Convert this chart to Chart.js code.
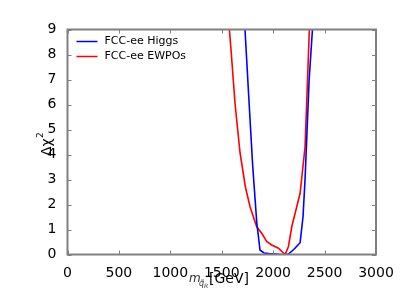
<!DOCTYPE html>
<html>
<head>
<meta charset="utf-8">
<script src="https://cdn.jsdelivr.net/npm/chart.js@4/dist/chart.umd.min.js"></script>
<style>
  html, body { margin: 0; padding: 0; background: #fff; }
  #wrap { width: 400px; height: 300px; }
</style>
</head>
<body>
<div id="wrap"><canvas id="chart"></canvas></div>
<script>
// values
const higgsMass = [1726, 1760, 1800, 1840, 1872, 1911, 1960, 2010, 2060, 2099, 2148, 2200, 2262, 2290, 2310, 2330, 2350, 2382];
const higgsChi2 = [9, 6.5, 3.6, 1.3, 0.18, 0.06, 0.04, 0.03, 0.01, 0, 0.02, 0.2, 0.47, 1.5, 3.0, 5.0, 7.0, 9];
const ewpoMass = [1574, 1590, 1629, 1678, 1694, 1730, 1775, 1840, 1889, 1937, 1986, 2051, 2116, 2148, 2181, 2197, 2262, 2310, 2352];
const ewpoChi2 = [9, 8.2, 6.05, 4.06, 3.65, 2.7, 1.91, 1.11, 0.85, 0.52, 0.38, 0.25, 0, 0.31, 1.11, 1.38, 2.45, 4.3, 9];
const xTicks = [0, 500, 1000, 1500, 2000, 2500, 3000];
const yTicks = [0, 1, 2, 3, 4, 5, 6, 7, 8, 9];
const seriesNames = ['FCC-ee Higgs', 'FCC-ee EWPOs'];

const pts = (xs, ys) => xs.map((x, i) => ({ x: x, y: ys[i] }));
const FONT = 'DejaVu Sans';

// frame, inward ticks, legend and axis titles
const decor = {
  id: 'decor',
  afterDatasetsDraw(chart) {
    const ctx = chart.ctx;
    const a = chart.chartArea;
    const sx = chart.scales.x, sy = chart.scales.y;
    ctx.save();
    ctx.strokeStyle = '#808080';
    ctx.lineWidth = 1;
    ctx.beginPath();
    xTicks.forEach(v => {
      const p = Math.round(sx.getPixelForValue(v)) + 0.5;
      ctx.moveTo(p, a.bottom); ctx.lineTo(p, a.bottom - 4);
      ctx.moveTo(p, a.top); ctx.lineTo(p, a.top + 4);
    });
    yTicks.forEach(v => {
      const p = Math.round(sy.getPixelForValue(v)) + 0.5;
      ctx.moveTo(a.left, p); ctx.lineTo(a.left + 4, p);
      ctx.moveTo(a.right, p); ctx.lineTo(a.right - 4, p);
    });
    ctx.stroke();
    ctx.lineWidth = 2;
    ctx.strokeRect(a.left, a.top, a.right - a.left, a.bottom - a.top);

    // legend
    ctx.font = '11px "' + FONT + '"';
    ctx.textBaseline = 'middle';
    ctx.fillStyle = '#000';
    chart.data.datasets.forEach((ds, i) => {
      const y = a.top + 12 + i * 15;
      ctx.strokeStyle = ds.borderColor;
      ctx.lineWidth = 1.5;
      ctx.beginPath();
      ctx.moveTo(a.left + 9, y); ctx.lineTo(a.left + 30, y);
      ctx.stroke();
      ctx.fillText(ds.label, a.left + 37, y);
    });

    // y title
    ctx.save();
    ctx.translate(51, 144);
    ctx.rotate(-Math.PI / 2);
    ctx.textAlign = 'left';
    ctx.textBaseline = 'alphabetic';
    ctx.font = '14px "' + FONT + '"';
    ctx.fillText('\u0394\u03c7', -12, 0);
    ctx.font = '9px "' + FONT + '"';
    ctx.fillText('2', 6, -8);
    ctx.restore();

    // x title
    ctx.textAlign = 'left';
    ctx.textBaseline = 'alphabetic';
    ctx.fillStyle = '#333';
    ctx.font = 'italic 12px "' + FONT + '"';
    ctx.fillText('m', 189, 282);
    ctx.font = 'italic 8px "' + FONT + '"';
    ctx.fillText('q\u0303', 199, 286);
    ctx.font = 'italic 6px "' + FONT + '"';
    ctx.fillText('R', 204, 288);
    ctx.fillStyle = '#000';
    ctx.font = '14px "' + FONT + '"';
    ctx.fillText('[GeV]', 209, 283);
    ctx.restore();
  }
};

new Chart(document.getElementById('chart'), {
  type: 'line',
  data: {
    datasets: [
      { label: seriesNames[0], data: pts(higgsMass, higgsChi2), borderColor: '#0000ff', borderWidth: 1.6, pointRadius: 0, tension: 0, fill: false },
      { label: seriesNames[1], data: pts(ewpoMass, ewpoChi2), borderColor: '#ff0000', borderWidth: 1.6, pointRadius: 0, tension: 0, fill: false }
    ]
  },
  options: {
    responsive: true,
    maintainAspectRatio: false,
    animation: false,
    layout: { padding: { top: 29.5, right: 24, left: 0, bottom: 0 } },
    plugins: { legend: { display: false }, tooltip: { enabled: false } },
    scales: {
      x: {
        type: 'linear', min: 0, max: 3000,
        afterBuildTicks: s => { s.ticks = xTicks.map(v => ({ value: v })); },
        afterFit: s => { s.height = 45.5; },
        grid: { display: false }, border: { display: false },
        ticks: { color: '#000', padding: 2, maxRotation: 0, font: { family: FONT, size: 14 }, callback: v => String(v) }
      },
      y: {
        min: 0, max: 9,
        afterBuildTicks: s => { s.ticks = yTicks.map(v => ({ value: v })); },
        afterFit: s => { s.width = 67.5; },
        grid: { display: false }, border: { display: false },
        ticks: { color: '#000', padding: 3, font: { family: FONT, size: 14 }, callback: v => String(v) }
      }
    }
  },
  plugins: [decor]
});
</script>
</body>
</html>
